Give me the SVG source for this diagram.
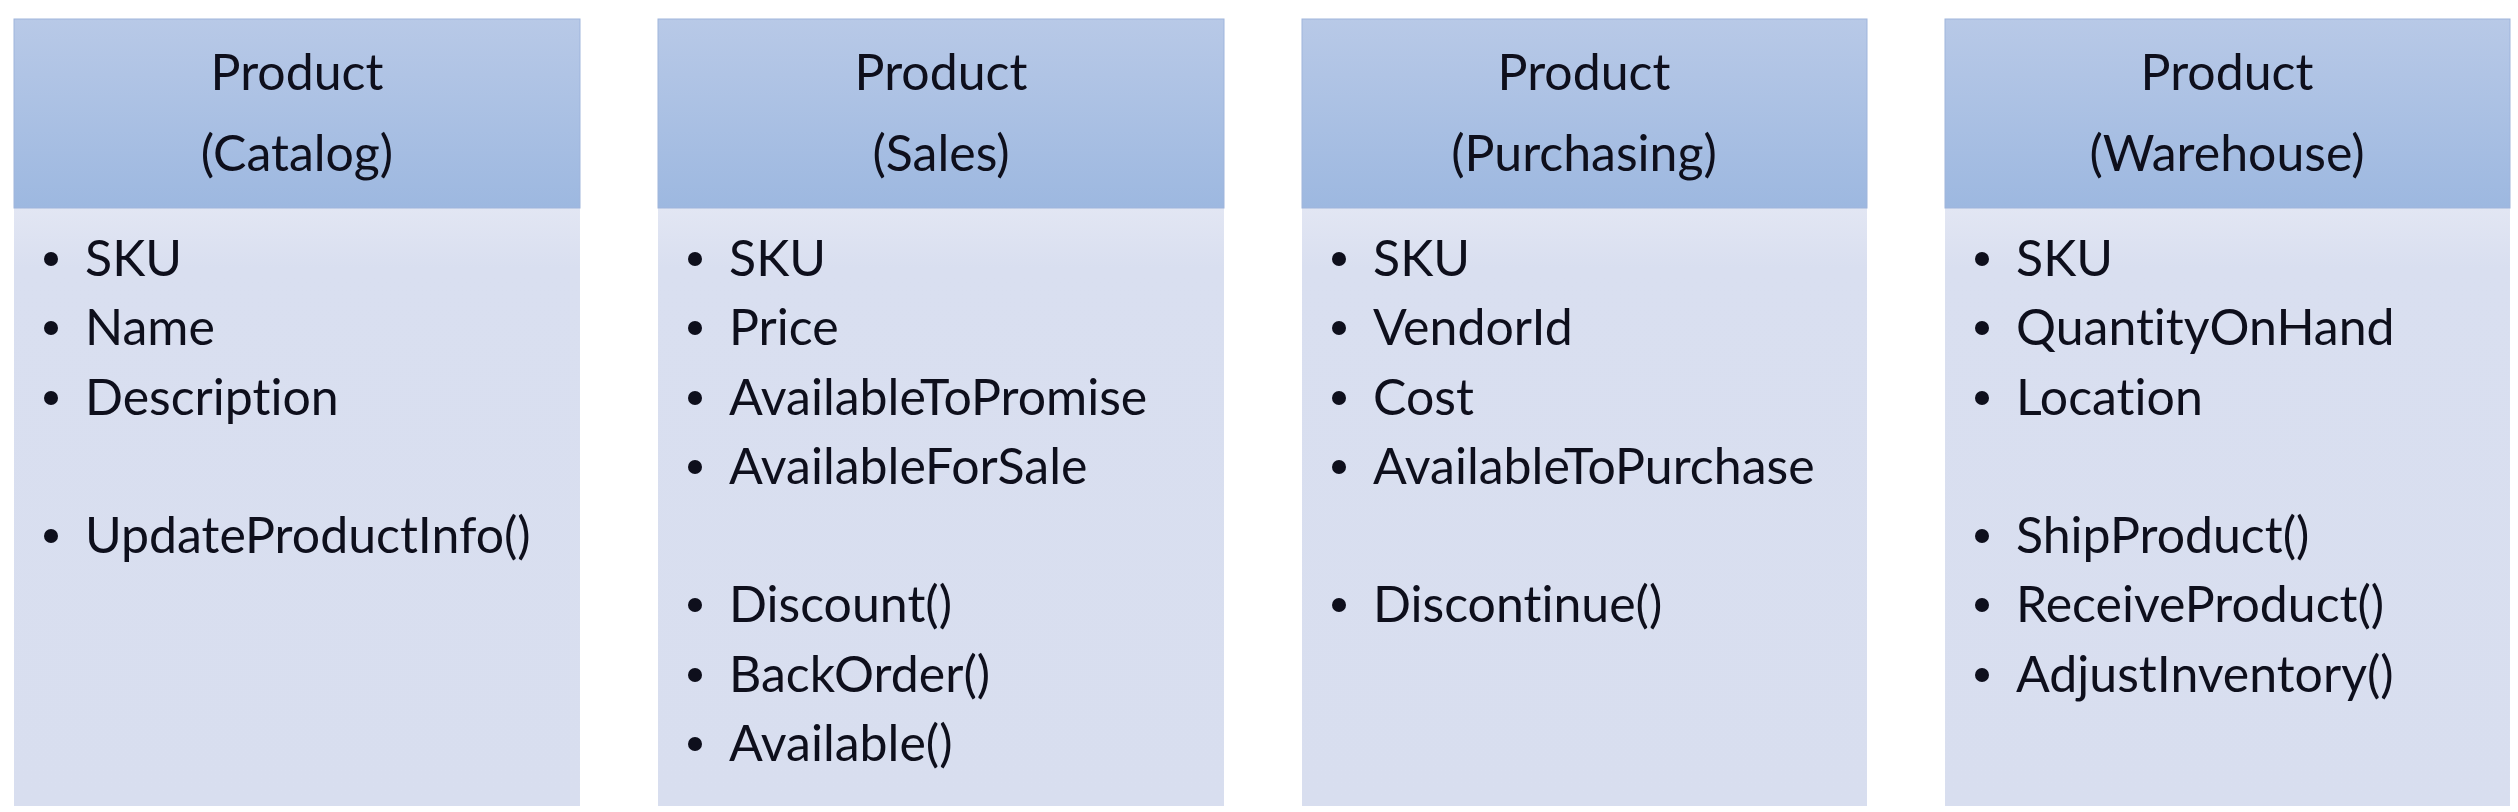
<svg xmlns="http://www.w3.org/2000/svg" width="2518" height="812" viewBox="0 0 2518 812">
<style>
.hdr{fill:url(#hg);stroke:#9fb5dc;stroke-width:1}
.body{fill:url(#bg)}
.t{font-family:Lato,"Open Sans","Liberation Sans",sans-serif;font-size:50px;fill:#0e0f1c;font-variant-ligatures:none;font-feature-settings:"liga" 0,"clig" 0}
.h{text-anchor:middle}
.b{fill:#0e0f1c}
</style>
<defs>
<linearGradient id="hg" x1="0" y1="0" x2="0" y2="1">
<stop offset="0" stop-color="#b8c9e7"/>
<stop offset="1" stop-color="#9db8e0"/>
</linearGradient>
<linearGradient id="bg" x1="0" y1="0" x2="0" y2="1">
<stop offset="0" stop-color="#e2e6f3"/>
<stop offset="0.1" stop-color="#d9dff0"/>
<stop offset="1" stop-color="#d8deef"/>
</linearGradient>
</defs>
<rect width="2518" height="812" fill="#ffffff"/>
<g id="catalog">
<rect class="body" x="14" y="208" width="566" height="598"/>
<rect class="hdr" x="14" y="19" width="566" height="189"/>
<text class="t h" x="297" y="90">Product</text>
<text class="t h" x="297" y="171">(Catalog)</text>
<circle class="b" cx="51" cy="259" r="7"/><text class="t" x="85" y="276">SKU</text>
<circle class="b" cx="51" cy="328" r="7"/><text class="t" x="85" y="345">Name</text>
<circle class="b" cx="51" cy="398" r="7"/><text class="t" x="85" y="415">Description</text>
<circle class="b" cx="51" cy="536" r="7"/><text class="t" x="85" y="553">UpdateProductInfo()</text>
</g>
<g id="sales">
<rect class="body" x="658" y="208" width="566" height="598"/>
<rect class="hdr" x="658" y="19" width="566" height="189"/>
<text class="t h" x="941" y="90">Product</text>
<text class="t h" x="941" y="171">(Sales)</text>
<circle class="b" cx="695" cy="259" r="7"/><text class="t" x="729" y="276">SKU</text>
<circle class="b" cx="695" cy="328" r="7"/><text class="t" x="729" y="345">Price</text>
<circle class="b" cx="695" cy="398" r="7"/><text class="t" x="729" y="415">AvailableToPromise</text>
<circle class="b" cx="695" cy="467" r="7"/><text class="t" x="729" y="484">AvailableForSale</text>
<circle class="b" cx="695" cy="605" r="7"/><text class="t" x="729" y="622">Discount()</text>
<circle class="b" cx="695" cy="675" r="7"/><text class="t" x="729" y="692">BackOrder()</text>
<circle class="b" cx="695" cy="744" r="7"/><text class="t" x="729" y="761">Available()</text>
</g>
<g id="purchasing">
<rect class="body" x="1302" y="208" width="565" height="598"/>
<rect class="hdr" x="1302" y="19" width="565" height="189"/>
<text class="t h" x="1584" y="90">Product</text>
<text class="t h" x="1584" y="171">(Purchasing)</text>
<circle class="b" cx="1339" cy="259" r="7"/><text class="t" x="1373" y="276">SKU</text>
<circle class="b" cx="1339" cy="328" r="7"/><text class="t" x="1373" y="345">VendorId</text>
<circle class="b" cx="1339" cy="398" r="7"/><text class="t" x="1373" y="415">Cost</text>
<circle class="b" cx="1339" cy="467" r="7"/><text class="t" x="1373" y="484">AvailableToPurchase</text>
<circle class="b" cx="1339" cy="605" r="7"/><text class="t" x="1373" y="622">Discontinue()</text>
</g>
<g id="warehouse">
<rect class="body" x="1945" y="208" width="565" height="598"/>
<rect class="hdr" x="1945" y="19" width="565" height="189"/>
<text class="t h" x="2227" y="90">Product</text>
<text class="t h" x="2227" y="171">(Warehouse)</text>
<circle class="b" cx="1982" cy="259" r="7"/><text class="t" x="2016" y="276">SKU</text>
<circle class="b" cx="1982" cy="328" r="7"/><text class="t" x="2016" y="345">QuantityOnHand</text>
<circle class="b" cx="1982" cy="398" r="7"/><text class="t" x="2016" y="415">Location</text>
<circle class="b" cx="1982" cy="536" r="7"/><text class="t" x="2016" y="553">ShipProduct()</text>
<circle class="b" cx="1982" cy="605" r="7"/><text class="t" x="2016" y="622">ReceiveProduct()</text>
<circle class="b" cx="1982" cy="675" r="7"/><text class="t" x="2016" y="692">AdjustInventory()</text>
</g>
<g id="connectors"></g>
</svg>
